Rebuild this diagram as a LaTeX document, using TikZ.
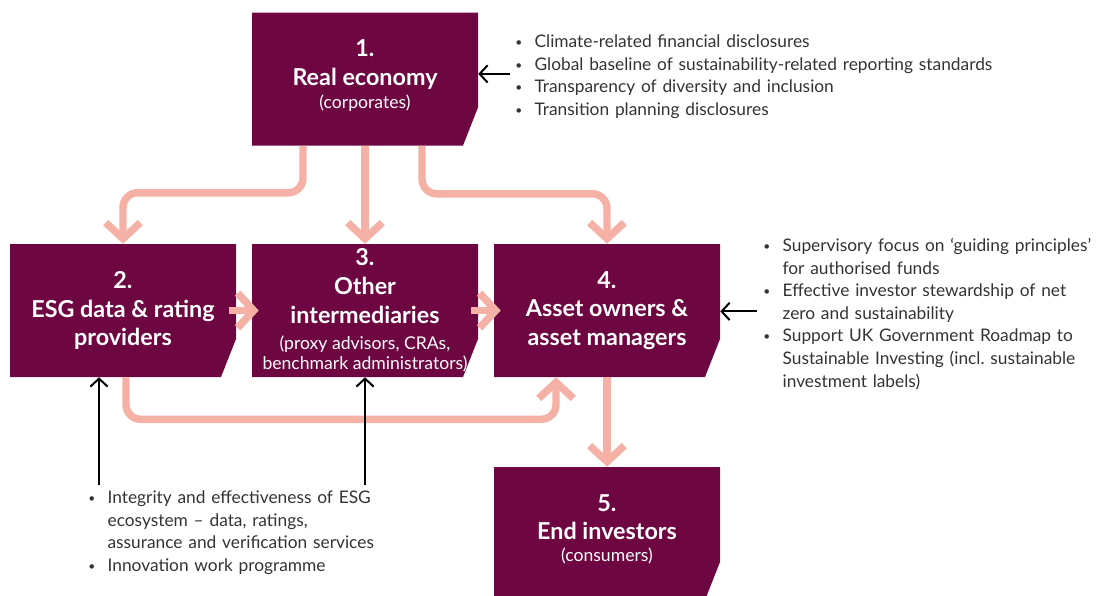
\documentclass[tikz,border=0pt]{standalone}
\usepackage{fontspec}
\setmainfont{Lato}
\usetikzlibrary{arrows.meta}

\definecolor{plum}{HTML}{6E0641}
\definecolor{salmon}{HTML}{F6B1A6}
\definecolor{bodygrey}{HTML}{333333}

\frenchspacing
\newcommand{\headfont}{\fontsize{17.5}{21.5}\selectfont\bfseries}
\newcommand{\subfont}{\fontsize{13.2}{16}\selectfont\mdseries}
\newcommand{\listfont}{\fontsize{13}{16.9}\selectfont}
% one bullet point with hanging indent
\newcommand{\bul}[1]{\par\noindent\hangindent=14.5pt\hangafter=1\makebox[14.5pt][l]{\raisebox{0.8pt}{\small\textbullet}}#1}

\begin{document}
\begin{tikzpicture}[x=0.75pt,y=-0.75pt,
  sector/.style={minimum width=169.5pt,minimum height=99.75pt,inner sep=0pt,
    text=white,align=center,font=\headfont,
    path picture={\fill[plum] (path picture bounding box.north west)
      -- (path picture bounding box.north east)
      -- ([yshift=28.5pt]path picture bounding box.south east)
      -- ([xshift=-11.25pt]path picture bounding box.south east)
      -- (path picture bounding box.south west) -- cycle;}},
  flow/.style={draw=salmon,line width=5.6pt,rounded corners=11pt,
    -{Straight Barb[length=12pt,width=26pt]}},
  pointer/.style={draw=black,line width=1.5pt,-{Straight Barb[length=6pt,width=13pt]}},
  remit/.style={anchor=north west,inner sep=0pt,align=left,text=bodygrey,font=\listfont}]
\useasboundingbox (0,0) rectangle (1097,596);

% the five sectors
\node[sector] (b1) at (365,79) {1.\\Real economy\\[-4pt]{\subfont (corporates)\rule[-7pt]{0pt}{0pt}}};
\node[sector] (b2) at (123,310.5) {2.\\ESG data \& rating\\providers};
\node[sector] (b3) at (365,310.5) {3.\\Other\\intermediaries\\[-2pt]{\subfont (proxy advisors, CRAs,}\\[-6pt]{\subfont benchmark administrators)}};
\node[sector] (b4) at (607,310.5) {4.\\Asset owners \&\\asset managers};
\node[sector] (b5) at (607,533.5) {5.\\End investors\\[-5pt]{\subfont (consumers)\rule[-8pt]{0pt}{0pt}}};

% flows between sectors
\draw[flow] ([shift={(-62,0)}]b1.south) -- ++(0,47) -| (b2.north);
\draw[flow] (b1.south) -- (b3.north);
\draw[flow] ([shift={(57,0)}]b1.south) -- ++(0,48) -| (b4.north);
\draw[flow] ([shift={(-7,0)}]b2.east) -- ([shift={(7,0)}]b3.west);
\draw[flow] ([shift={(-7,0)}]b3.east) -- ([shift={(7,0)}]b4.west);
\draw[flow] ([shift={(3,0)}]b2.south) -- ++(0,42) -| ([shift={(-51,0)}]b4.south);
\draw[flow] (b4.south) -- (b5.north);

% policy work
\node[remit,text width=380pt] (r1) at (515,25) {%
  \bul{Climate-related financial disclosures}
  \bul{Global baseline of sustainability-related reporting standards}
  \bul{Transparency of diversity and inclusion}
  \bul{Transition planning disclosures}\par};
\node[remit,text width=250pt] (r4) at (763,229) {%
  \bul{Supervisory focus on ‘guiding principles’\newline for authorised funds}
  \bul{Effective investor stewardship of net\newline zero and sustainability}
  \bul{Support UK Government Roadmap to\newline Sustainable Investing (incl. sustainable\newline investment labels)}\par};
\node[remit,text width=250pt] (r2) at (88,481) {%
  \bul{Integrity and effectiveness of ESG\newline ecosystem – data, ratings,\newline assurance and verification services}
  \bul{Innovation work programme}\par};

\draw[pointer] ([shift={(-5,2)}]r1.west) -- ([shift={(0,2)}]r1.west -| b1.east);
\draw[pointer] ([shift={(-6,2)}]r4.west) -- ([shift={(0,2)}]r4.west -| b4.east);
\draw[pointer] ([shift={(-24,4)}]b2.south |- r2.north) -- ([shift={(-24,0)}]b2.south);
\draw[pointer] ([shift={(0,4)}]b3.south |- r2.north) -- (b3.south);
\end{tikzpicture}
\end{document}
